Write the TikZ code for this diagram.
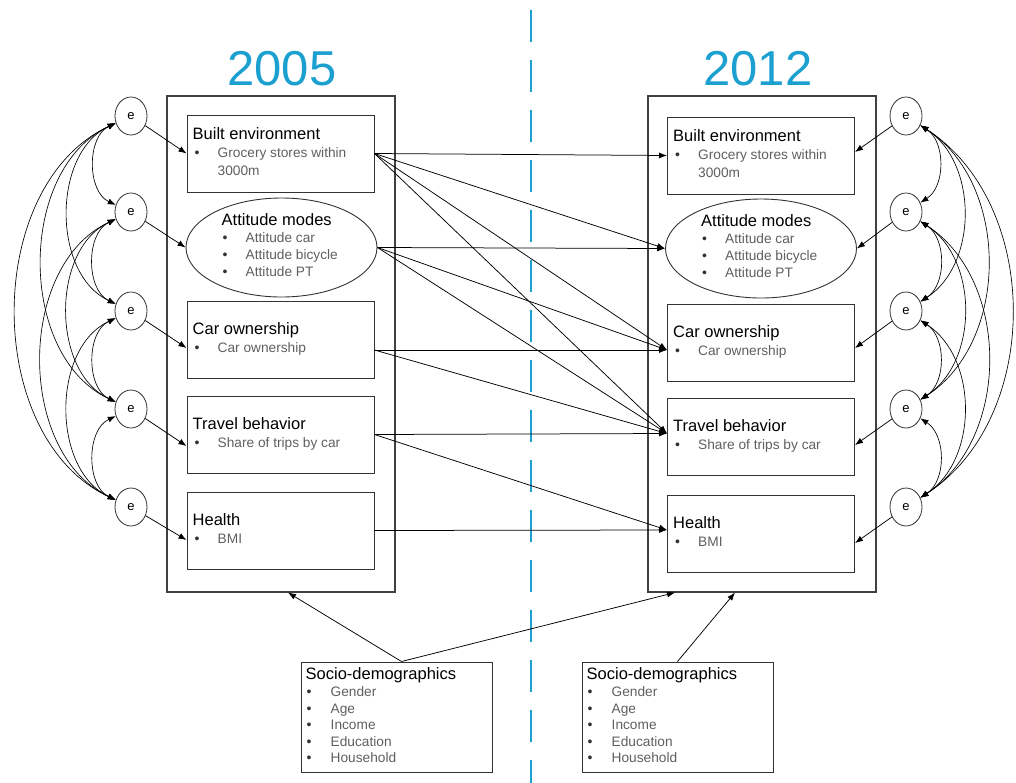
\documentclass[tikz,border=0pt]{standalone}
\usepackage{fontspec}
\setmainfont{Liberation Sans}
\usetikzlibrary{arrows.meta,positioning,shapes.geometric}
\definecolor{yearblue}{RGB}{28,160,208}
\definecolor{itemgray}{RGB}{95,95,95}

\begin{document}
\begin{tikzpicture}[x=1pt, y=-1pt,
  every node/.style={font=\fontsize{16.5}{19}\selectfont},
  frame/.style={draw=black!75, line width=1.1pt, minimum width=228pt, minimum height=496pt, inner sep=0pt},
  box/.style={draw=black!80, line width=1pt, minimum width=187pt, minimum height=77pt, inner sep=0pt},
  oval/.style={draw=black!80, line width=0.9pt, ellipse, minimum width=191pt, minimum height=99pt, inner sep=0pt},
  socbox/.style={draw=black!80, line width=1pt, minimum width=191pt, minimum height=110pt, inner sep=0pt},
  err/.style={draw=black!80, line width=0.8pt, ellipse, minimum width=32pt, minimum height=38pt, inner sep=0pt, font=\fontsize{13}{15}\selectfont},
  ttl/.style={anchor=base west, inner sep=0pt, font=\fontsize{16.5}{19}\selectfont},
  itm/.style={anchor=base west, inner sep=0pt, text=itemgray, font=\fontsize{13.7}{16}\selectfont},
  bul/.style={anchor=base west, inner sep=0pt, text=black!80, font=\fontsize{14}{16}\selectfont},
  year/.style={anchor=base, inner sep=0pt, text=yearblue, font=\fontsize{49}{56}\selectfont},
  link/.style={-{Latex[length=8pt,width=6pt]}, line width=0.75pt},
  cov/.style={{Latex[length=8pt,width=6pt]}-{Latex[length=8pt,width=6pt]}, line width=0.65pt},
]
  \useasboundingbox (0,0) rectangle (1016,782);

  % divider between the two waves
  \draw[yearblue, line width=2pt, dash pattern=on 32pt off 18pt] (531,-40) -- (531,790);

  \node[year] (yrl) at (282,85) {2005};
  \node[year] (yrr) at (758,85) {2012};

  \node[frame] (outl) at (281,344) {};
  \node[frame] (outr) at (762,344) {};

  % 2005 side
  \node[box]  (bel)  at (280.5,153.5) {};
  \node[oval] (attl) at (281.5,247.5) {};
  \node[box]  (carl) at (280.5,339.5) {};
  \node[box]  (trvl) at (280.5,434.5) {};
  \node[box]  (hltl) at (280.5,530.5) {};

  % 2012 side
  \node[box]  (ber)  at (761,155.5) {};
  \node[oval] (attr) at (761,248.5) {};
  \node[box]  (carr) at (761,342.5) {};
  \node[box]  (trvr) at (761,436.5) {};
  \node[box]  (hltr) at (761,533.5) {};

  % box texts
  \foreach \b in {bel,ber} {
    \node[ttl] (\b-t)  at ([xshift=6pt,yshift=-25pt]\b.north west) {Built environment};
    \node[bul] (\b-b1) at ([xshift=8pt,yshift=-43pt]\b.north west) {\textbullet};
    \node[itm] (\b-i1) at ([xshift=31pt,yshift=-43pt]\b.north west) {Grocery stores within};
    \node[itm] (\b-i2) at ([xshift=31pt,yshift=-61pt]\b.north west) {3000m};
  }
  \foreach \b in {attl,attr} {
    \node[ttl] (\b-t) at ([xshift=-60pt,yshift=22pt]\b.center) {Attitude modes};
    \foreach \t [count=\k] in {Attitude car,Attitude bicycle,Attitude PT} {
      \node[bul] (\b-b\k) at ([xshift=-59pt,yshift={22.5pt-17pt*\k}]\b.center) {\textbullet};
      \node[itm] (\b-i\k) at ([xshift=-36pt,yshift={22.5pt-17pt*\k}]\b.center) {\t};
    }
  }
  \foreach \b/\h/\s in {carl/Car ownership/Car ownership,carr/Car ownership/Car ownership,
                        trvl/Travel behavior/Share of trips by car,trvr/Travel behavior/Share of trips by car,
                        hltl/Health/BMI,hltr/Health/BMI} {
    \node[ttl] (\b-t)  at ([xshift=6pt,yshift=-34pt]\b.north west) {\h};
    \node[bul] (\b-b1) at ([xshift=8pt,yshift=-52pt]\b.north west) {\textbullet};
    \node[itm] (\b-i1) at ([xshift=31pt,yshift=-52pt]\b.north west) {\s};
  }

  % error terms
  \foreach \y [count=\k] in {116,212,311,409,507} {
    \node[err] (el\k) at (131,\y) {e};
    \node[err] (er\k) at (906,\y) {e};
  }
  \foreach \i/\j in {1/2,1/3,1/4,1/5,2/3,2/4,2/5,3/4,3/5,4/5} {
    \draw[cov] (el\i) to[bend right=65] (el\j);
    \draw[cov] (er\i) to[bend left=57] (er\j);
  }

  \draw[link] (el1) -- (bel.west);
  \draw[link] (el2) -- (attl.west);
  \draw[link] (el3) -- ([yshift=-8.5pt]carl.west);
  \draw[link] (el4) -- ([yshift=-11.5pt]trvl.west);
  \draw[link] (el5) -- ([yshift=-9.5pt]hltl.west);
  \draw[link] (er1) -- ([yshift=3.5pt]ber.east);
  \draw[link] (er2) -- (attr.east);
  \draw[link] (er3) -- ([yshift=-5.5pt]carr.east);
  \draw[link] (er4) -- ([yshift=-8.5pt]trvr.east);
  \draw[link] (er5) -- ([yshift=-9.5pt]hltr.east);

  % cross-lagged paths
  \draw[link] (bel.east) -- (ber.west);
  \draw[link] (bel.east) -- (attr.west);
  \draw[link] (bel.east) -- ([yshift=-7.5pt]carr.west);
  \draw[link] (bel.east) -- ([yshift=3pt]trvr.west);
  \draw[link] (attl.east) -- (attr.west);
  \draw[link] (attl.east) -- ([yshift=-7.5pt]carr.west);
  \draw[link] (attl.east) -- ([yshift=3pt]trvr.west);
  \draw[link] ([yshift=-10.5pt]carl.east) -- ([yshift=-7.5pt]carr.west);
  \draw[link] ([yshift=-10.5pt]carl.east) -- ([yshift=3pt]trvr.west);
  \draw[link] (trvl.east) -- ([yshift=3pt]trvr.west);
  \draw[link] (trvl.east) -- ([yshift=3.5pt]hltr.west);
  \draw[link] (hltl.east) -- ([yshift=3.5pt]hltr.west);

  % socio-demographics
  \node[socbox] (socl) at (396.5,717) {};
  \node[socbox] (socr) at (677.5,717) {};
  \foreach \b in {socl,socr} {
    \node[ttl] (\b-t) at ([xshift=5pt,yshift=-18pt]\b.north west) {Socio-demographics};
    \foreach \t [count=\k] in {Gender,Age,Income,Education,Household} {
      \node[bul] (\b-b\k) at ([xshift=6pt,yshift={-18.4pt-16.6pt*\k}]\b.north west) {\textbullet};
      \node[itm] (\b-i\k) at ([xshift=30pt,yshift={-18.4pt-16.6pt*\k}]\b.north west) {\t};
    }
  }
  \draw[link] ([xshift=5pt]socl.north) -- ([xshift=7pt]outl.south);
  \draw[link] ([xshift=5pt]socl.north) -- ([xshift=-87pt]outr.south);
  \draw[link] (socr.north) -- ([xshift=-27pt]outr.south);
\end{tikzpicture}
\end{document}
